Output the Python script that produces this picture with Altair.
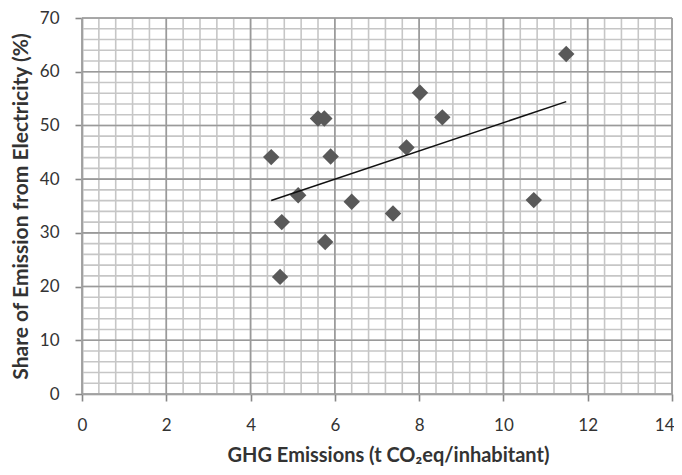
import altair as alt
import pandas as pd

# Data
ghg = [4.49, 5.60, 5.75, 5.90, 5.13, 6.40, 4.74, 5.77, 4.70, 8.02, 8.55, 7.70, 11.49, 10.72, 7.38]
share = [44.1, 51.3, 51.3, 44.2, 37.0, 35.8, 32.0, 28.3, 21.8, 56.1, 51.5, 45.9, 63.3, 36.1, 33.6]

x_major = [0, 2, 4, 6, 8, 10, 12, 14]
y_major = [0, 10, 20, 30, 40, 50, 60, 70]
x_minor = [round(i * 0.4, 1) for i in range(36)]
y_minor = list(range(0, 72, 2))

FONT = "Lato"
TXT = "#333333"
X_TITLE = "GHG Emissions  (t CO₂eq/inhabitant)"
Y_TITLE = "Share of Emission  from Electricity (%)"

df = pd.DataFrame({"ghg": ghg, "share": share})
xs = alt.Scale(domain=[0, 14], nice=False, zero=False)
ys = alt.Scale(domain=[0, 70], nice=False, zero=False)

ax_x = alt.Axis(values=x_major, title=X_TITLE,
                grid=False, domainColor="#888888", domainWidth=1.6,
                tickColor="#888888", tickSize=7, tickWidth=1.6,
                labelFont=FONT, labelFontSize=17, labelColor=TXT,
                labelBaseline="middle", labelPadding=24, labelFlush=False,
                labelAlign={"condition": {"test": "datum.value == 14", "value": "right"},
                            "value": "center"},
                labelOffset={"condition": {"test": "datum.value == 14", "value": 2},
                             "value": 0},
                titleFont=FONT, titleFontSize=20, titleFontWeight="bold",
                titleColor=TXT, titleX=306, titleY=61, titleBaseline="middle",
                titleAlign="center")
ax_y = alt.Axis(values=y_major, title=Y_TITLE,
                grid=False, domainColor="#888888", domainWidth=1.6,
                tickColor="#888888", tickSize=7, tickWidth=1.6,
                labelFont=FONT, labelFontSize=17, labelColor=TXT,
                labelPadding=16, labelFlush=False,
                titleFont=FONT, titleFontSize=21, titleFontWeight="bold",
                titleColor=TXT, titleX=-61, titleY=188, titleBaseline="middle",
                titleAlign="center", titleAngle=270)

minor_x = alt.Chart(pd.DataFrame({"v": x_minor})).mark_rule(color="#c6c6c6", strokeWidth=1.6).encode(
    x=alt.X("v:Q", scale=xs, axis=ax_x))
minor_y = alt.Chart(pd.DataFrame({"v": y_minor})).mark_rule(color="#c6c6c6", strokeWidth=1.6).encode(
    y=alt.Y("v:Q", scale=ys, axis=ax_y))
major_x = alt.Chart(pd.DataFrame({"v": x_major})).mark_rule(color="#9a9a9a", strokeWidth=1.6).encode(
    x=alt.X("v:Q", scale=xs, axis=ax_x))
major_y = alt.Chart(pd.DataFrame({"v": y_major})).mark_rule(color="#9a9a9a", strokeWidth=1.6).encode(
    y=alt.Y("v:Q", scale=ys, axis=ax_y))

points = alt.Chart(df).mark_point(shape="diamond", filled=True, color="#595959",
                                  size=270, opacity=1, strokeWidth=0).encode(
    x=alt.X("ghg:Q", scale=xs, axis=ax_x),
    y=alt.Y("share:Q", scale=ys, axis=ax_y),
)

trend = alt.Chart(df).transform_regression("ghg", "share").mark_line(
    color="#111111", strokeWidth=1.5).encode(
    x=alt.X("ghg:Q", scale=xs, axis=ax_x),
    y=alt.Y("share:Q", scale=ys, axis=ax_y))

chart = alt.layer(minor_x, minor_y, major_x, major_y, points, trend).properties(
    width=590, height=376,
    autosize=alt.AutoSizeParams(type="none"),
    padding={"left": 74, "top": 10, "right": 2, "bottom": 72},
).configure_view(stroke="#8c8c8c", strokeWidth=1.6).configure(background="white")

chart.save("out.html", embed_options={"renderer": "svg", "actions": False})
